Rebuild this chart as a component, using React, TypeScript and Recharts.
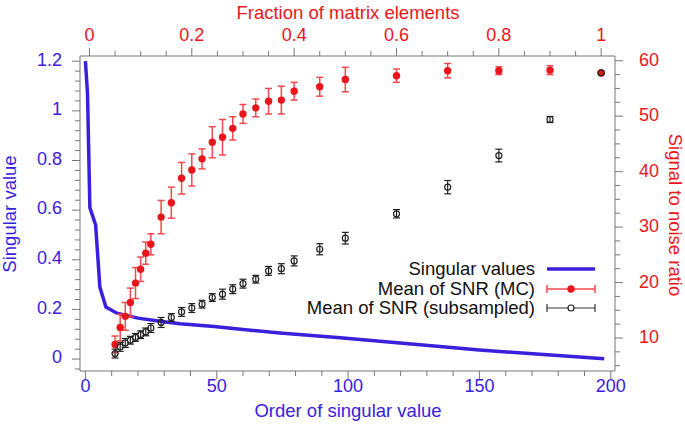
import React from 'react';
import { ComposedChart, Line, Scatter, ErrorBar, XAxis, YAxis, Label } from 'recharts';

const BLUE = '#3a20dc';
const RED = '#e8161c';
const ERR_RED = '#f0494f';
const FRAME = '#777777';
const FONT = '"Liberation Sans", Arial, Helvetica, sans-serif';

// fraction of matrix elements (top axis)
const fractions = [
  0.05, 0.06, 0.07, 0.08, 0.09, 0.1, 0.11, 0.12, 0.14, 0.16, 0.18, 0.2, 0.22, 0.24,
  0.26, 0.28, 0.3, 0.325, 0.35, 0.375, 0.4, 0.45, 0.5, 0.6, 0.7, 0.8, 0.9, 1.0,
];
// mean SNR, Monte Carlo
const snrMC = [
  8.85, 11.9, 13.9, 16.4, 19.9, 22.4, 25.3, 26.9, 31.8, 34.4, 38.8, 40.3, 42.3, 45.3,
  46.2, 47.8, 50.4, 51.5, 52.7, 52.9, 54.5, 55.3, 56.6, 57.3, 58.2, 58.2, 58.3, 57.8,
];
const snrMCErr = [
  1.5, 2.4, 2.5, 2.6, 2.8, 2.2, 2.0, 1.9, 3.0, 2.8, 2.85, 2.9, 1.8, 2.8,
  3.2, 2.1, 1.7, 1.6, 2.3, 2.5, 1.6, 1.7, 2.2, 1.2, 1.3, 0.7, 0.8, 0.2,
];
// mean SNR, subsampled
const snrSub = [
  7.2, 8.4, 9.1, 9.6, 10.1, 10.6, 11.1, 11.8, 12.8, 13.7, 14.7, 15.4, 16.1, 17.3,
  17.9, 18.8, 19.8, 20.6, 22.1, 22.5, 23.9, 26.0, 28.0, 32.4, 37.2, 42.9, 49.4, 57.8,
];
const snrSubErr = [
  0.8, 0.8, 0.8, 0.7, 0.7, 0.7, 0.7, 0.8, 0.9, 0.7, 0.8, 0.8, 0.7, 0.7,
  0.9, 0.8, 0.8, 0.7, 0.8, 0.9, 0.9, 1.0, 1.05, 0.75, 1.2, 1.15, 0.55, 0.1,
];

// singular value spectrum (bottom / left axes)
const svOrder = [0, 0.8, 1.7, 3.9, 5.5, 7.8, 12, 20, 29, 36, 49, 60, 74, 97, 123, 150, 173, 197.5];
const svValues = [1.2, 1.07, 0.61, 0.54, 0.29, 0.21, 0.185, 0.165, 0.151, 0.142, 0.131, 0.119, 0.105, 0.086, 0.062, 0.037, 0.019, 0.001];

// tick labels
const orderMajor = [0, 50, 100, 150, 200];
const fracMajor = [0, 0.2, 0.4, 0.6, 0.8, 1];
const svMajor = [0, 0.2, 0.4, 0.6, 0.8, 1, 1.2];
const snrMajor = [10, 20, 30, 40, 50, 60];

const steps = (from: number, to: number, step: number) => {
  const out: number[] = [];
  for (let i = 0; from + i * step <= to + 1e-9; i++) out.push(+(from + i * step).toFixed(4));
  return out;
};
const orderTicks = steps(0, 200, 10);
const fracTicks = steps(0, 1, 0.05);
const svTicks = steps(-0.04, 1.2, 0.04);
const snrTicks = steps(5, 60, 2.5);

const mcData = fractions.map((f, i) => ({ frac: f, snr: snrMC[i], err: snrMCErr[i] }));
const subData = fractions.map((f, i) => ({ frac: f, snr: snrSub[i], err: snrSubErr[i] }));
const svData = svOrder.map((o, i) => ({ order: o, sv: svValues[i] }));

const fmt = (v: number) => String(+v.toFixed(2));

const makeTick = (side: string, majors: number[], color: string) => (props: any) => {
  const { x, y, payload } = props;
  const v = payload.value;
  const major = majors.some((m) => Math.abs(m - v) < 1e-6);
  const len = major ? 8 : 5;
  const common = { fill: color, fontSize: 18, fontFamily: FONT };
  if (side === 'left') {
    return (
      <g>
        <line x1={x} x2={x - len} y1={y} y2={y} stroke={FRAME} />
        {major && <text x={x - 18} y={y - 2} dy="0.35em" textAnchor="end" {...common}>{fmt(v)}</text>}
      </g>
    );
  }
  if (side === 'right') {
    return (
      <g>
        <line x1={x} x2={x + len} y1={y} y2={y} stroke={FRAME} />
        {major && <text x={x + 24} y={y - 1} dy="0.35em" textAnchor="start" {...common}>{fmt(v)}</text>}
      </g>
    );
  }
  if (side === 'top') {
    return (
      <g>
        <line x1={x} x2={x} y1={y} y2={y - len} stroke={FRAME} />
        {major && <text x={x} y={y - 21} dy="0.35em" textAnchor="middle" {...common}>{fmt(v)}</text>}
      </g>
    );
  }
  return (
    <g>
      <line x1={x} x2={x} y1={y} y2={y + len} stroke={FRAME} />
      {major && <text x={x} y={y + 15} dy="0.35em" textAnchor="middle" {...common}>{fmt(v)}</text>}
    </g>
  );
};

const titleStyle = { fontSize: 18.5, fontFamily: FONT };

const App = () => {
  return (
    <div style={{ position: 'absolute', left: 0, top: 0, width: 685, height: 427, background: '#fff' }}>
      <ComposedChart width={685} height={427} margin={{ top: 0, right: 0, bottom: 0, left: 0 }}>
        <XAxis
          xAxisId="bottom"
          orientation="bottom"
          type="number"
          dataKey="order"
          domain={[-2.06, 201.6]}
          allowDataOverflow
          ticks={orderTicks}
          interval={0}
          height={56}
          tickSize={0}
          tickMargin={0}
          axisLine={{ stroke: FRAME }}
          tick={makeTick('bottom', orderMajor, BLUE)}
        >
          <Label content={() => <text x={348} y={411} dy="0.35em" textAnchor="middle" fill={BLUE} {...titleStyle}>Order of singular value</text>} />
        </XAxis>
        <XAxis
          xAxisId="top"
          orientation="top"
          type="number"
          dataKey="frac"
          domain={[-0.0185, 1.027]}
          allowDataOverflow
          ticks={fracTicks}
          interval={0}
          height={56}
          tickSize={0}
          tickMargin={0}
          axisLine={{ stroke: FRAME }}
          tick={makeTick('top', fracMajor, RED)}
        >
          <Label content={() => <text x={348} y={13} dy="0.35em" textAnchor="middle" fill={RED} {...titleStyle}>Fraction of matrix elements</text>} />
        </XAxis>
        <YAxis
          yAxisId="left"
          orientation="left"
          type="number"
          dataKey="sv"
          domain={[-0.048, 1.221]}
          allowDataOverflow
          ticks={svTicks}
          interval={0}
          width={80}
          tickSize={0}
          tickMargin={0}
          axisLine={{ stroke: FRAME }}
          tick={makeTick('left', svMajor, BLUE)}
        >
          <Label content={() => <text x={10} y={214} dy="0.35em" textAnchor="middle" fill={BLUE} transform="rotate(-90 10 214)" {...titleStyle}>Singular value</text>} />
        </YAxis>
        <YAxis
          yAxisId="right"
          orientation="right"
          type="number"
          dataKey="snr"
          domain={[4.05, 60.85]}
          allowDataOverflow
          ticks={snrTicks}
          interval={0}
          width={70}
          tickSize={0}
          tickMargin={0}
          axisLine={{ stroke: FRAME }}
          tick={makeTick('right', snrMajor, RED)}
        >
          <Label content={() => <text x={675} y={215} dy="0.35em" textAnchor="middle" fill={RED} transform="rotate(90 675 215)" {...titleStyle}>Signal to noise ratio</text>} />
        </YAxis>

        <Line
          data={svData}
          xAxisId="bottom"
          yAxisId="left"
          dataKey="sv"
          type="linear"
          stroke={BLUE}
          strokeWidth={3.5}
          dot={false}
          isAnimationActive={false}
        />
        <Scatter
          data={mcData}
          xAxisId="top"
          yAxisId="right"
          dataKey="snr"
          isAnimationActive={false}
          shape={(p: any) => <circle cx={p.cx} cy={p.cy} r={3.7} fill={RED} />}
        >
          <ErrorBar dataKey="err" direction="y" width={3.5} stroke={ERR_RED} strokeWidth={1.5} />
        </Scatter>
        <Scatter
          data={subData}
          xAxisId="top"
          yAxisId="right"
          dataKey="snr"
          isAnimationActive={false}
          shape={(p: any) => <circle cx={p.cx} cy={p.cy} r={3} fill="none" stroke="#222" strokeWidth={1.2} />}
        >
          <ErrorBar dataKey="err" direction="y" width={3.5} stroke="#222" strokeWidth={1.2} />
        </Scatter>
      </ComposedChart>

      {/* legend */}
      {[
        { text: 'Singular values', y: 269 },
        { text: 'Mean of SNR (MC)', y: 289 },
        { text: 'Mean of SNR (subsampled)', y: 308 },
      ].map((r) => (
        <div
          key={r.text}
          style={{
            position: 'absolute',
            right: 685 - 535,
            top: r.y - 11,
            lineHeight: '22px',
            whiteSpace: 'nowrap',
            fontSize: 18.5,
            fontFamily: FONT,
            color: '#111',
          }}
        >
          {r.text}
        </div>
      ))}
      <svg style={{ position: 'absolute', left: 0, top: 0 }} width={685} height={427} pointerEvents="none">
        <line x1={547} x2={595} y1={269} y2={269} stroke={BLUE} strokeWidth={3.5} />
        <line x1={547} x2={595} y1={289} y2={289} stroke={ERR_RED} strokeWidth={1.5} />
        <line x1={547} x2={547} y1={285} y2={293} stroke={ERR_RED} strokeWidth={1.5} />
        <line x1={595} x2={595} y1={285} y2={293} stroke={ERR_RED} strokeWidth={1.5} />
        <circle cx={571} cy={289} r={3.7} fill={RED} />
        <line x1={547} x2={595} y1={308} y2={308} stroke="#333" strokeWidth={1.2} />
        <line x1={547} x2={547} y1={304} y2={312} stroke="#333" strokeWidth={1.2} />
        <line x1={595} x2={595} y1={304} y2={312} stroke="#333" strokeWidth={1.2} />
        <circle cx={571} cy={308} r={3} fill="#fff" stroke="#222" strokeWidth={1.2} />
      </svg>
    </div>
  );
};

export default App;
